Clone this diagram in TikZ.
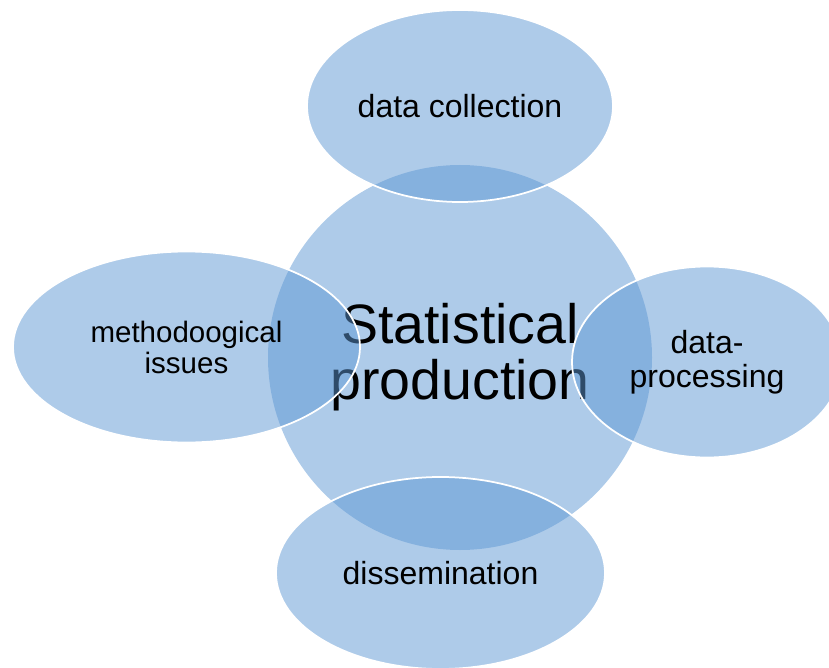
\documentclass[tikz,border=0pt]{standalone}
\usepackage{fontspec}
\setmainfont{Liberation Sans}
\usetikzlibrary{shapes.geometric}
\definecolor{vennblue}{RGB}{93,151,211}

\begin{document}
\begin{tikzpicture}[
  x=1pt, y=-1pt,
  basic/.style = {ellipse, fill=vennblue, fill opacity=0.5, text opacity=1,
                  inner sep=0pt, align=center},
  petal/.style = {basic, draw=white, draw opacity=1, line width=1.75pt},
  big/.style   = {font=\fontsize{55.5}{56}\selectfont},
  small/.style = {font=\fontsize{32}{33.5}\selectfont},
  %small/.style = {font=\fontsize{30.5}{33}\selectfont},
]
  \useasboundingbox (0,0) rectangle (829,668);

  % the hub first, so that the petals lie over its text
  \node[basic, big, minimum width=384, minimum height=385] (production)
    at (460,357.5) {Statistical\\production};

  \node[petal, small, minimum width=306, minimum height=192] (collection)
    at (460,106) {data collection};
  \node[petal, font=\fontsize{29.5}{31}\selectfont,
        minimum width=347, minimum height=191] (issues)
    at (186.5,347) {methodoogical\\issues};
  \node[petal, small, minimum width=270, minimum height=191] (processing)
    at (707,362) {data-\\processing};
  \node[petal, small, minimum width=329, minimum height=192] (dissemination)
    at (440.5,573) {dissemination};
\end{tikzpicture}
\end{document}
